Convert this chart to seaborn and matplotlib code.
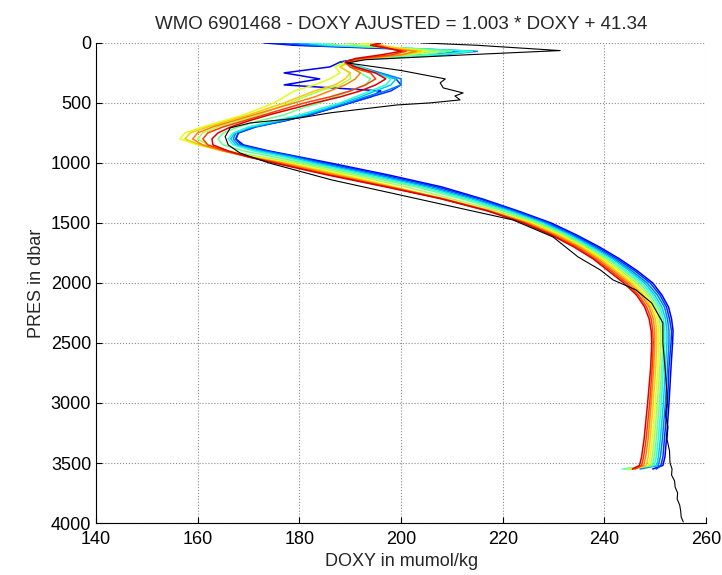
import numpy as np
import pandas as pd
import matplotlib
matplotlib.use('Agg')
import matplotlib.pyplot as plt
import seaborn as sns

sns.set_style('white')
config = {
    "font.family": ['Liberation Sans', 'DejaVu Sans'],
    "font.size": 13,
    "xtick.direction": 'in',
    "ytick.direction": 'in',
    "xtick.major.size": 4,
    "ytick.major.size": 4,
    "xtick.major.pad": 6,
}
plt.rcParams.update(config)

# pression commune des profils (dbar)
pres_levels = [0, 20, 50, 70, 100, 130, 160, 200, 250, 300, 350, 400, 450, 500, 550,
               600, 650, 700, 750, 800, 850, 900, 950, 1000, 1100, 1200, 1300, 1400,
               1500, 1600, 1700, 1800, 1900, 2000, 2100, 2200, 2300, 2400, 2500, 2700,
               3000, 3300, 3450, 3520, 3550]

# DOXY ajuste par cycle (du premier cycle, bleu, au dernier, rouge)
doxy_profiles = [
    [173, 179, 199, 212, 205, 192, 188, 186, 177, 184, 177, 196, 194, 190, 186, 182, 177, 171, 168, 167.5, 169, 174, 180,
     186, 197.5, 208, 216, 223, 229.5, 234.5, 239, 243, 246.5, 249.5, 251.3, 252.6, 253.2, 253.5, 253.4, 253.1, 252.7, 252.2, 251.9, 251.5, 249.5],
    [175, 181, 201, 213, 206, 192, 188, 191, 195, 199, 200, 198, 194, 190, 186, 182, 177, 171.5, 168, 167.5, 168.5, 173.5, 179.5,
     185, 196.5, 207, 215.5, 222.5, 229, 234, 238.5, 242.5, 246, 249, 250.9, 252.2, 252.8, 253.2, 253.1, 252.7, 252.4, 251.8, 251.5, 251.1, 250.2],
    [178, 183, 203, 215, 208, 193, 189, 192, 196, 200, 200, 197, 193, 189.5, 185.5, 181.5, 176.5, 171, 167.5, 167, 168, 173, 179,
     184, 195.4, 206, 214.6, 222, 228.5, 233.6, 238, 242, 245.4, 248.4, 250.4, 251.8, 252.4, 252.7, 252.7, 252.4, 252, 251.4, 251, 250.6, 247],
    [180, 185, 204, 214, 207, 193, 189, 192, 195, 199, 198, 195, 192, 188.5, 185, 181, 176, 170.5, 167.3, 166.5, 167.5, 172, 178,
     183, 194.3, 205, 213.8, 221.4, 228, 233.2, 237.6, 241.6, 244.9, 247.9, 249.9, 251.3, 252, 252.3, 252.3, 252, 251.6, 251, 250.6, 250.3, 245],
    [182, 186, 204, 214, 207, 193, 189, 192, 195, 198, 197, 194, 191, 188, 184, 180, 175, 170, 167, 166, 167, 171, 177,
     182, 193.2, 204, 213, 220.8, 227.5, 232.7, 237.1, 241.1, 244.4, 247.4, 249.5, 250.9, 251.6, 251.9, 251.9, 251.6, 251.2, 250.6, 250.2, 249.8, 244],
    [185, 188, 203, 210, 204, 192, 189, 190, 192, 194, 193, 190, 187, 184, 180, 177, 172, 168, 165, 164, 165, 169, 175,
     181, 192, 203, 212, 220.2, 227, 232.3, 236.7, 240.7, 243.9, 246.9, 249, 250.5, 251.2, 251.5, 251.5, 251.3, 250.8, 250.2, 249.8, 249.4, 243.5],
    [189, 192, 202, 207, 201, 192, 189, 188, 190, 190, 188, 184, 181, 178, 175, 172, 168, 164, 161, 160, 162, 166, 172.5,
     179.5, 190.5, 201, 210, 219, 226.5, 231.8, 236.2, 240.1, 243.3, 246.3, 248.5, 250.1, 250.8, 251.1, 251.1, 250.9, 250.4, 249.8, 249.4, 249, 244.5],
    [192, 195, 201, 205, 199, 192, 189, 187, 188, 186, 183, 179, 177, 175, 172, 169, 165, 161, 157.5, 156.5, 160, 165, 171,
     178, 189, 199, 208, 217.5, 225.8, 231.3, 235.8, 239.7, 242.8, 245.8, 248, 249.6, 250.4, 250.7, 250.7, 250.5, 250, 249.4, 249, 248.6, 245],
    [194, 196, 200, 204, 200, 193, 190, 188, 190, 189, 187, 183, 180, 177, 173.5, 170, 166, 162, 158.5, 157.5, 160.5, 165, 170.5,
     177, 188, 198.5, 208.5, 217.8, 225.3, 230.9, 235.4, 239.2, 242.3, 245.3, 247.6, 249.2, 250, 250.3, 250.3, 250.1, 249.6, 249, 248.6, 248.2, 246],
    [195, 196, 198, 203, 200, 193, 190, 190, 192, 191, 189, 186, 183, 179, 175, 171, 167, 163, 160, 159, 161, 165, 170,
     176.5, 187, 198, 208.5, 217.5, 224.8, 230.4, 235, 238.7, 241.8, 244.8, 247.2, 248.8, 249.6, 249.9, 249.9, 249.7, 249.2, 248.6, 248.1, 247.7, 245.5],
    [196, 195, 198, 201, 198, 192, 189, 190, 194, 195, 193, 190, 186, 181, 177, 173, 169, 165, 162, 161, 162, 165.5, 170,
     175.5, 186, 197.5, 208.2, 217.2, 224.4, 229.9, 234.5, 238.2, 241.3, 244.3, 246.7, 248.3, 249.2, 249.5, 249.6, 249.4, 248.9, 248.2, 247.7, 247.3, 246],
    [196, 194, 198, 200, 196, 191, 189, 191, 195, 197, 195, 192, 188, 183, 178.5, 174, 170, 166.5, 164, 162.8, 163, 166, 170,
     175, 185.5, 197, 208, 217, 224, 229.5, 234, 237.8, 240.8, 243.8, 246.3, 247.9, 248.8, 249.2, 249.3, 249.1, 248.5, 247.8, 247.3, 246.9, 245.5],
]

# profil de reference (noir)
ref_pres = [0, 20, 64, 97, 140, 167, 230, 300, 333, 375, 417, 442, 475, 500, 517, 583,
            625, 667, 708, 781, 850, 917, 1000, 1142, 1267, 1475, 1617, 1783, 1892, 1975,
            2058, 2167, 2333, 2500, 2700, 2917, 3000, 3100, 3200, 3300, 3400, 3500, 3550,
            3600, 3650, 3700, 3750, 3800, 3850, 3900, 3950, 3990]
ref_doxy = [204, 215, 231.3, 214, 193, 189.4, 200, 208.7, 207.7, 208.3, 212.2, 210.6, 211.6,
            205.7, 199.2, 186, 180.1, 170.3, 166.4, 165.4, 166, 168.3, 174, 186.4, 199.8, 222,
            229.9, 234.8, 239.2, 241.7, 246.2, 249.3, 251.5, 251.5, 251.9, 252.3, 252.3, 252.0,
            252.5, 252.3, 252.8, 252.9, 253.3, 253.2, 253.8, 253.9, 254.4, 254.3, 254.8, 255.0,
            255.1, 255.5]

x_ticks = [140, 160, 180, 200, 220, 240, 260]
y_ticks = [0, 500, 1000, 1500, 2000, 2500, 3000, 3500, 4000]

frames = []
for i, vals in enumerate(doxy_profiles):
    frames.append(pd.DataFrame({'cycle': i, 'PRES': pres_levels, 'DOXY': vals}))
df = pd.concat(frames, ignore_index=True)
df_ref = pd.DataFrame({'PRES': ref_pres, 'DOXY': ref_doxy})

# couleurs jet (seaborn refuse le nom 'jet', on passe par matplotlib)
n = len(doxy_profiles)
jet = plt.get_cmap('jet')
colors = [jet(v) for v in np.linspace(0.1, 0.92, n)]

fig = plt.figure(figsize=(7.22, 5.75), dpi=100)
ax = fig.add_axes([0.133, 0.0904, 0.845, 0.835])

sns.lineplot(data=df, x='DOXY', y='PRES', hue='cycle', units='cycle',
             palette=colors, sort=False, estimator=None, legend=False,
             lw=1.1, ax=ax)
sns.lineplot(data=df_ref, x='DOXY', y='PRES', sort=False, estimator=None,
             color='black', lw=0.8, ax=ax)

ax.set_xlim(140, 260)
ax.set_ylim(4000, 0)
ax.set_xticks(x_ticks)
ax.set_yticks(y_ticks)
ax.grid(True, linestyle=':', color='0.55', linewidth=0.8)
ax.spines['top'].set_visible(False)
ax.spines['right'].set_visible(False)
for s in ['left', 'bottom']:
    ax.spines[s].set_color('black')
    ax.spines[s].set_linewidth(0.8)
ax.tick_params(top=False, right=False, left=True, bottom=True, colors='black')

ax.set_xlabel('DOXY in mumol/kg', labelpad=3)
ax.set_ylabel('PRES in dbar')
ax.set_title('WMO 6901468 - DOXY AJUSTED = 1.003 * DOXY + 41.34', fontsize=13.5, pad=10)

fig.savefig('out.png', dpi=100)
